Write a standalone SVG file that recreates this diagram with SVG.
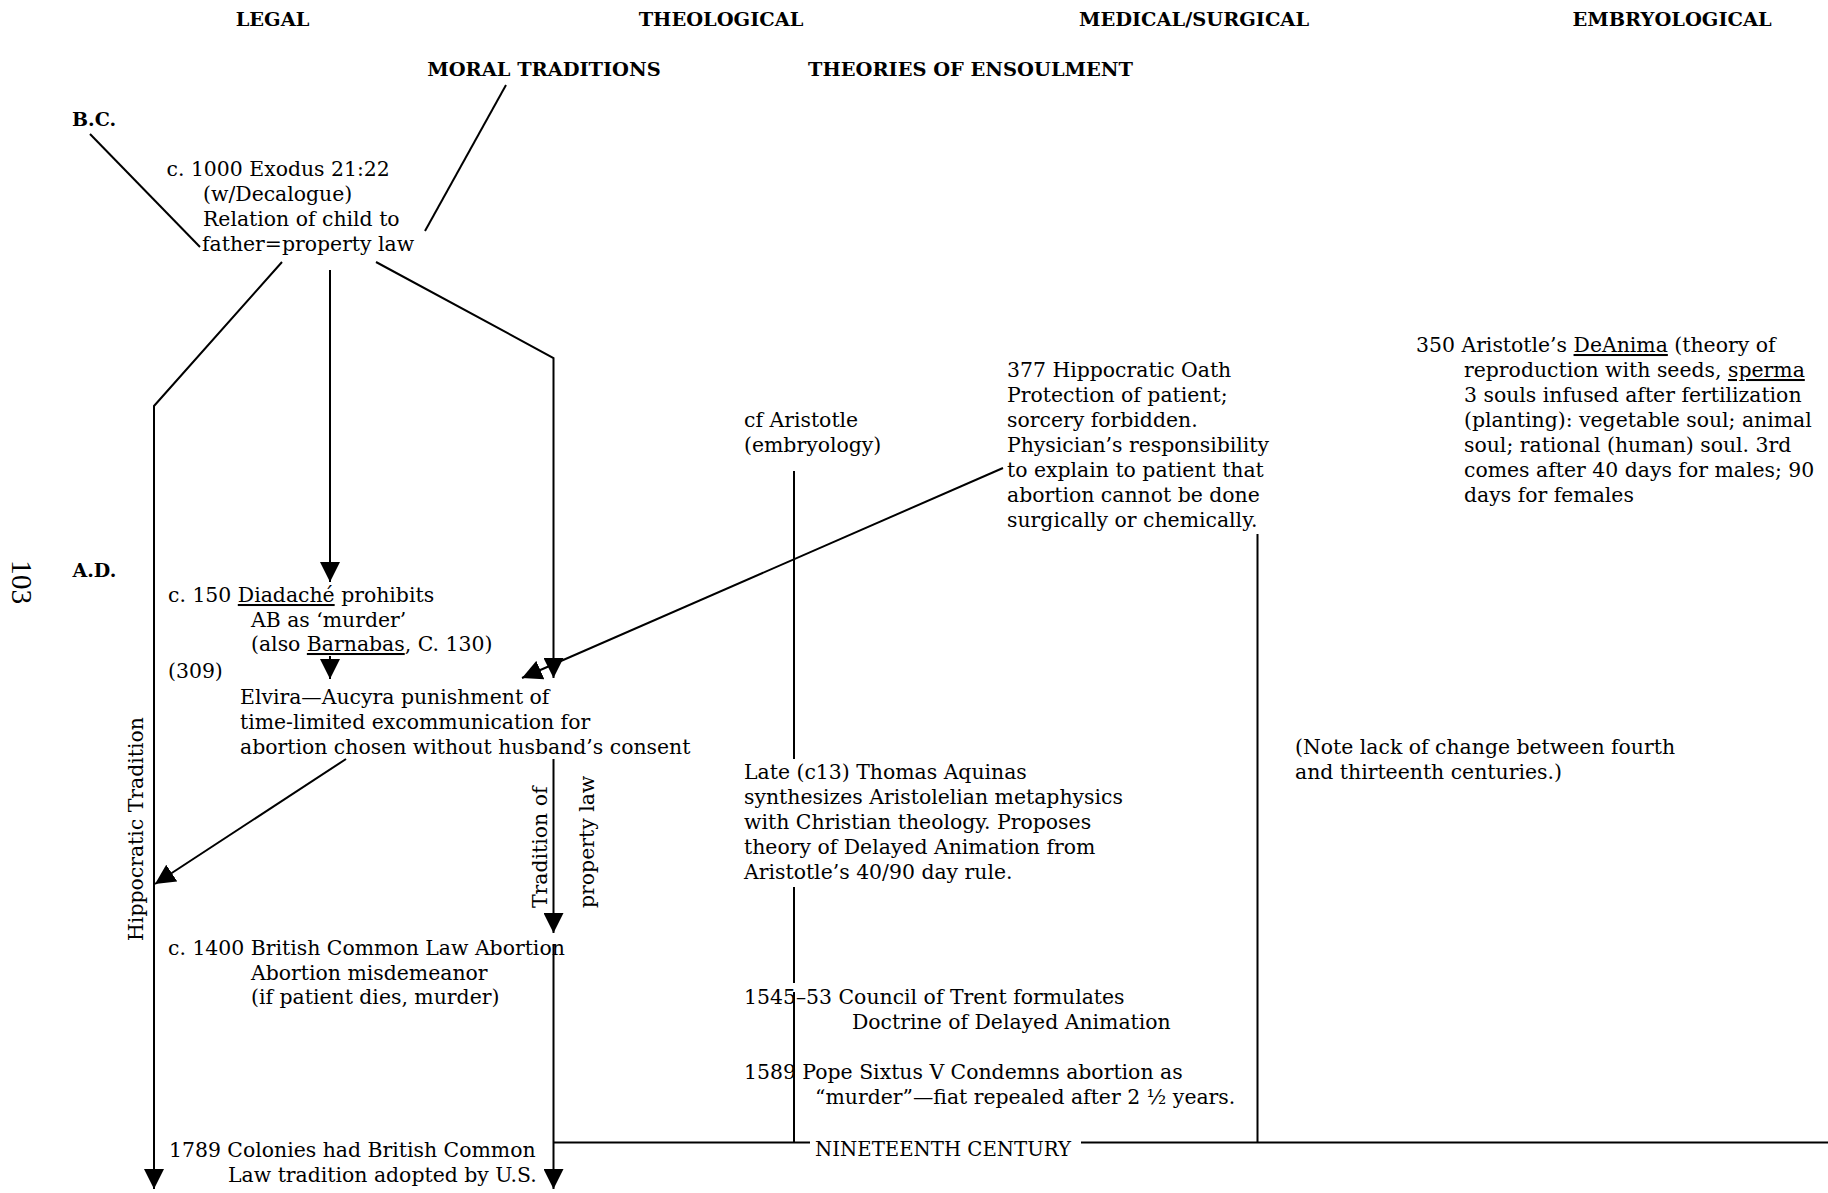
<svg xmlns="http://www.w3.org/2000/svg" width="1828" height="1193" viewBox="0 0 1828 1193">
<style>
.h{font-family:"DejaVu Serif",serif;font-weight:bold;font-size:19.4px;fill:#000;text-anchor:middle}
.era{font-family:"DejaVu Serif",serif;font-weight:bold;font-size:19px;fill:#000}
.t{font-family:"DejaVu Serif",serif;font-size:20.4px;fill:#000}
.pg{font-family:"Liberation Serif",serif;font-size:29.5px;fill:#000}
.u{text-decoration:underline}
.c{fill:none;stroke:#000;stroke-width:2}
.a{marker-end:url(#arrow)}
</style>
<defs>
<marker id="arrow" markerUnits="userSpaceOnUse" markerWidth="20" markerHeight="20" viewBox="0 0 20 20" refX="20" refY="10" orient="auto">
<path d="M0,0 L20,10 L0,20 z" fill="#000"/>
</marker>
</defs>
<rect width="1828" height="1193" fill="#fff"/>

<g id="headers">
<text class="h" x="272.5" y="26">LEGAL</text>
<text class="h" x="721" y="26">THEOLOGICAL</text>
<text class="h" x="1194" y="26">MEDICAL/SURGICAL</text>
<text class="h" x="1672" y="26">EMBRYOLOGICAL</text>
<text class="h" x="544" y="76">MORAL TRADITIONS</text>
<text class="h" x="970.5" y="76">THEORIES OF ENSOULMENT</text>
</g>
<g id="era-bc"><text class="era" x="72" y="126">B.C.</text></g>
<g id="era-ad"><text class="era" x="72.5" y="577">A.D.</text></g>
<g id="page-number"><text class="pg" transform="translate(12,560) rotate(90)">103</text></g>

<g id="connectors">
<path class="c" d="M90,134 L200,247"/>
<path class="c" d="M506,85 L425,231"/>
<path class="c a" d="M282,262 L154,406 L154,1189"/>
<path class="c a" d="M330,270 L330,582"/>
<path class="c a" d="M376,262 L553.5,358 L553.5,678"/>
<path class="c a" d="M330,656 L330,679"/>
<path class="c a" d="M1003,468 L522,678"/>
<path class="c a" d="M346,759 L155,884"/>
<path class="c a" d="M553.5,759 L553.5,933"/>
<path class="c a" d="M553.5,945 L553.5,1189"/>
<path class="c" d="M553.5,1142.5 L810,1142.5 M1081,1142.5 L1828,1142.5"/>
<path class="c" d="M794,471 L794,759 M794,887 L794,983 M794,992 L794,1142.5"/>
<path class="c" d="M1257.5,534 L1257.5,1142.5"/>
<text class="t" transform="translate(143,829) rotate(-90)" text-anchor="middle">Hippocratic Tradition</text>
<text class="t" transform="translate(547,908) rotate(-90)">Tradition of</text>
<text class="t" transform="translate(594,908) rotate(-90)">property law</text>
</g>

<g id="n-exodus">
<text class="t" x="166.5" y="176">c. 1000 Exodus 21:22</text>
<text class="t" x="203" y="201">(w/Decalogue)</text>
<text class="t" x="203" y="226">Relation of child to</text>
<text class="t" x="202" y="251">father=property law</text>
</g>

<g id="n-diadache">
<text class="t" x="168" y="602">c. 150 <tspan class="u">Diadaché</tspan> prohibits</text>
<text class="t" x="251" y="627">AB as ‘murder’</text>
<text class="t" x="251" y="651">(also <tspan class="u">Barnabas</tspan>, C. 130)</text>
</g>

<g id="n-309"><text class="t" x="168" y="678">(309)</text></g>

<g id="n-elvira">
<text class="t" x="240" y="704">Elvira—Aucyra punishment of</text>
<text class="t" x="240" y="729">time-limited excommunication for</text>
<text class="t" x="240" y="754">abortion chosen without husband’s consent</text>
</g>

<g id="n-common-law">
<text class="t" x="168" y="955">c. 1400 British Common Law Abortion</text>
<text class="t" x="251" y="980">Abortion misdemeanor</text>
<text class="t" x="251" y="1004">(if patient dies, murder)</text>
</g>

<g id="n-colonies">
<text class="t" x="169" y="1157">1789 Colonies had British Common</text>
<text class="t" x="228" y="1182">Law tradition adopted by U.S.</text>
</g>

<g id="n-cf-aristotle">
<text class="t" x="744" y="427">cf Aristotle</text>
<text class="t" x="744" y="452">(embryology)</text>
</g>

<g id="n-hippocratic-oath">
<text class="t" x="1007" y="377">377 Hippocratic Oath</text>
<text class="t" x="1007" y="402">Protection of patient;</text>
<text class="t" x="1007" y="427">sorcery forbidden.</text>
<text class="t" x="1007" y="452">Physician’s responsibility</text>
<text class="t" x="1007" y="477">to explain to patient that</text>
<text class="t" x="1007" y="502">abortion cannot be done</text>
<text class="t" x="1007" y="527">surgically or chemically.</text>
</g>

<g id="n-deanima">
<text class="t" x="1416" y="352">350 Aristotle’s <tspan class="u">DeAnima</tspan> (theory of</text>
<text class="t" x="1464" y="377">reproduction with seeds, <tspan class="u">sperma</tspan></text>
<text class="t" x="1464" y="402">3 souls infused after fertilization</text>
<text class="t" x="1464" y="427">(planting): vegetable soul; animal</text>
<text class="t" x="1464" y="452">soul; rational (human) soul. 3rd</text>
<text class="t" x="1464" y="477">comes after 40 days for males; 90</text>
<text class="t" x="1464" y="502">days for females</text>
</g>

<g id="n-note">
<text class="t" x="1295" y="754">(Note lack of change between fourth</text>
<text class="t" x="1295" y="779">and thirteenth centuries.)</text>
</g>

<g id="n-aquinas">
<text class="t" x="744" y="779">Late (c13) Thomas Aquinas</text>
<text class="t" x="744" y="804">synthesizes Aristolelian metaphysics</text>
<text class="t" x="744" y="829">with Christian theology. Proposes</text>
<text class="t" x="744" y="854">theory of Delayed Animation from</text>
<text class="t" x="744" y="879">Aristotle’s 40/90 day rule.</text>
</g>

<g id="n-trent">
<text class="t" x="744" y="1004">1545–53 Council of Trent formulates</text>
<text class="t" x="852" y="1029">Doctrine of Delayed Animation</text>
</g>

<g id="n-sixtus">
<text class="t" x="744" y="1079">1589 Pope Sixtus V Condemns abortion as</text>
<text class="t" x="815" y="1104">“murder”—fiat repealed after 2 ½ years.</text>
</g>

<g id="n-nineteenth"><text class="t" x="815" y="1156" textLength="256" lengthAdjust="spacingAndGlyphs">NINETEENTH CENTURY</text></g>
</svg>
